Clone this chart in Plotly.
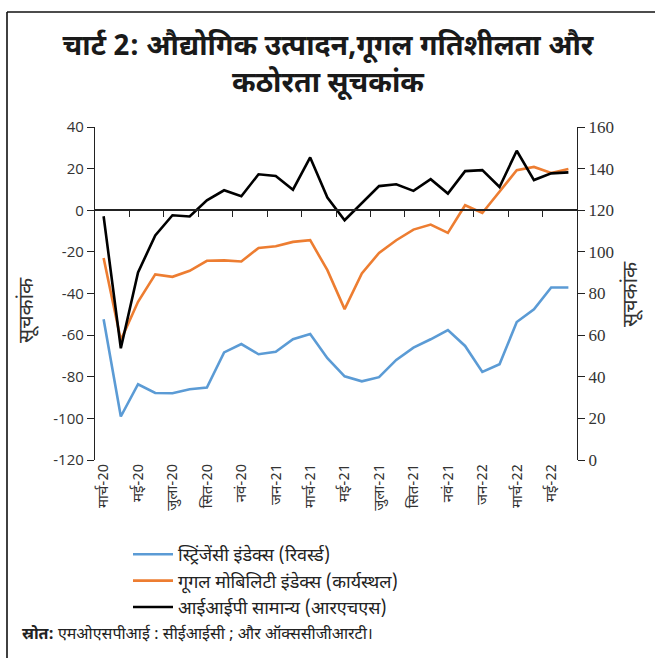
import plotly.graph_objects as go

months = ["मार्च-20", "अप्रै-20", "मई-20", "जून-20", "जुला-20", "अग-20", "सित-20", "अक्टू-20",
          "नवं-20", "दिसं-20", "जन-21", "फर-21", "मार्च-21", "अप्रै-21", "मई-21", "जून-21",
          "जुला-21", "अग-21", "सित-21", "अक्टू-21", "नवं-21", "दिसं-21", "जन-22", "फर-22",
          "मार्च-22", "अप्रै-22", "मई-22", "जून-22"]

stringency_rev = [-52.4, -99.1, -83.6, -87.8, -87.9, -86.0, -85.2, -68.3, -64.3, -69.2,
                  -68.0, -62.0, -59.5, -71.1, -79.8, -82.2, -80.2, -71.9, -66.0, -62.0,
                  -57.6, -65.2, -77.7, -74.0, -53.7, -47.6, -37.1, -37.1]

google_workplace = [-22.9, -62.4, -44.0, -30.8, -32.0, -29.1, -24.3, -24.1, -24.6, -18.1,
                    -17.3, -15.2, -14.4, -28.8, -47.5, -30.4, -20.5, -14.4, -9.3, -6.9,
                    -10.9, 2.4, -1.3, 8.8, 19.2, 20.8, 17.9, 19.8]

iip_general = [117.1, 53.7, 90.1, 107.9, 117.6, 117.0, 124.8, 129.6, 126.7, 137.3,
               136.5, 129.9, 145.4, 126.1, 115.2, 123.2, 131.6, 132.5, 129.3, 134.9,
               128.0, 138.8, 139.3, 131.2, 148.6, 134.5, 137.7, 138.2]

left_ticks = [-120, -100, -80, -60, -40, -20, 0, 20, 40]
left_tick_text = ["-120", "-100", "-80", "-60", "-40", "-20", "0", "20", "40"]
right_ticks = [0, 20, 40, 60, 80, 100, 120, 140, 160]

names = ["स्ट्रिंजेंसी इंडेक्स (रिवर्स्ड)", "गूगल मोबिलिटी इंडेक्स (कार्यस्थल)", "आईआईपी सामान्य (आरएचएस)"]
colors = ["#5B9BD5", "#ED7D31", "#000000"]

idx = list(range(len(months)))
label_pos = idx[::2]
label_txt = months[::2]
boundary_ticks = [i - 0.5 for i in idx[2::2]]

W, H = 656, 659
L, R, T, B = 95, 79, 127, 199
pw, ph = W - L - R, H - T - B

def px(x):
    return (x - L) / pw

def py(y):
    return (H - B - y) / ph

dev = "Noto Sans Devanagari, Noto Sans, sans-serif"

fig = go.Figure()
fig.add_trace(go.Scatter(x=idx, y=stringency_rev, name=names[0], mode="lines",
                         line=dict(color=colors[0], width=2.6), xaxis="x", yaxis="y"))
fig.add_trace(go.Scatter(x=idx, y=google_workplace, name=names[1], mode="lines",
                         line=dict(color=colors[1], width=2.6), xaxis="x", yaxis="y"))
fig.add_trace(go.Scatter(x=idx, y=iip_general, name=names[2], mode="lines",
                         line=dict(color=colors[2], width=2.6), xaxis="x2", yaxis="y2"))

fig.update_layout(
    width=W, height=H,
    margin=dict(l=L, r=R, t=T, b=B),
    paper_bgcolor="white", plot_bgcolor="white",
    showlegend=True,
    title=dict(text="<b>चार्ट 2: औद्योगिक उत्पादन,गूगल गतिशीलता और<br>कठोरता सूचकांक</b>",
               x=0.5, xanchor="center", y=1 - 55 / H, yanchor="top",
               font=dict(family=dev, size=28.5, color="#1a1a1a")),
    xaxis=dict(range=[-0.5, len(months) - 0.5], tickmode="array", tickvals=label_pos,
               ticktext=label_txt, tickangle=-90, showline=False, ticks="",
               showgrid=False, zeroline=False, automargin=False,
               tickfont=dict(family=dev, size=15, color="#333")),
    xaxis2=dict(range=[-0.5, len(months) - 0.5], overlaying="x", anchor="free",
                position=120 / 160, side="bottom", tickmode="array", tickvals=boundary_ticks,
                ticks="outside", ticklen=6, tickcolor="#222", showline=True,
                linecolor="#222", linewidth=1.5, showticklabels=False,
                showgrid=False, zeroline=False),
    yaxis=dict(range=[-120, 40], tickmode="array", tickvals=left_ticks, ticktext=left_tick_text,
               ticks="outside", ticklen=7, tickcolor="#222", automargin=False,
               showline=True, linecolor="#222", linewidth=1.3, showgrid=False, zeroline=False,
               tickfont=dict(family="Open Sans, DejaVu Sans, sans-serif", size=15, color="#333")),
    yaxis2=dict(range=[0, 160], tickmode="array", tickvals=right_ticks, overlaying="y",
                side="right", anchor="x2", automargin=False,
                ticks="outside", ticklen=7, tickcolor="#222", showline=True,
                linecolor="#222", linewidth=1.3, showgrid=False, zeroline=False,
                tickfont=dict(family="Liberation Serif, serif", size=17, color="#333")),
    legend=dict(x=px(128), y=py(536), xanchor="left", yanchor="top",
                font=dict(family=dev, size=18, color="#222"),
                bgcolor="rgba(0,0,0,0)", tracegroupgap=0, itemwidth=40),
)

fig.add_annotation(text="सूचकांक", xref="paper", yref="paper", x=px(28), y=py(310),
                   textangle=-90, showarrow=False, xanchor="center", yanchor="middle",
                   font=dict(family=dev, size=21, color="#333"))
fig.add_annotation(text="सूचकांक", xref="paper", yref="paper", x=px(632), y=py(294),
                   textangle=-90, showarrow=False, xanchor="center", yanchor="middle",
                   font=dict(family=dev, size=21, color="#333"))
fig.add_annotation(text="<b>स्रोत:</b> एमओएसपीआई : सीईआईसी ; और ऑक्ससीजीआरटी।",
                   xref="paper", yref="paper", x=px(20), y=py(635), xanchor="left",
                   yanchor="middle", showarrow=False,
                   font=dict(family=dev, size=16, color="#222"))

fig.add_shape(type="line", xref="paper", yref="paper", x0=px(7), x1=px(W - 1),
              y0=py(12), y1=py(12), line=dict(color="#111", width=1.6))
fig.add_shape(type="line", xref="paper", yref="paper", x0=px(7), x1=px(7),
              y0=py(12), y1=py(H - 1), line=dict(color="#111", width=1.6))

fig.write_html("out.html", config={"displayModeBar": False},
               post_script="document.body.style.margin='0';")
